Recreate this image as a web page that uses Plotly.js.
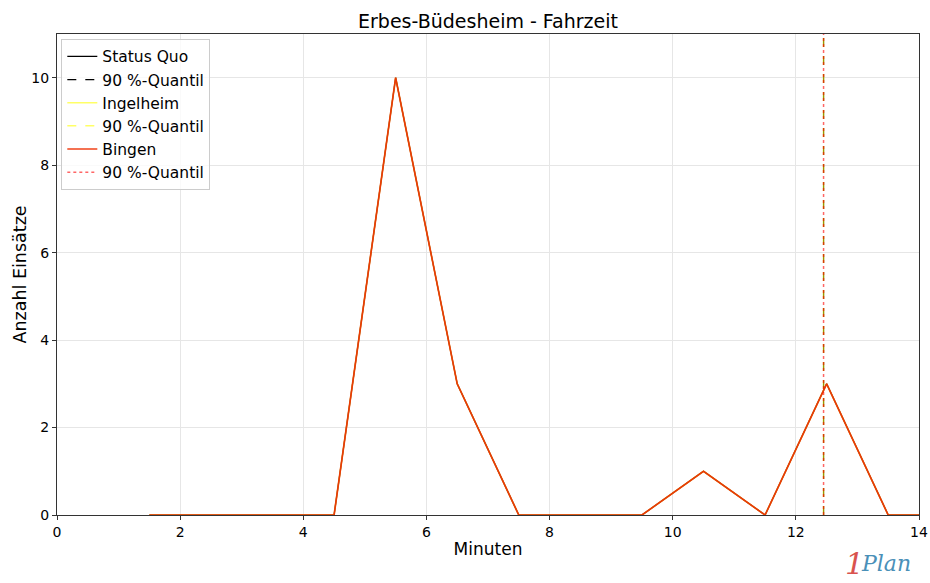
<!DOCTYPE html>
<html>
<head>
<meta charset="utf-8">
<script src="https://cdn.plot.ly/plotly-3.0.1.min.js"></script>
<style>html,body{margin:0;padding:0;background:#fff;}#chart{width:930px;height:583px;}</style>
</head>
<body>
<div id="chart"></div>
<script>
const minutes = [1.5, 2.5, 3.5, 4.5, 5.5, 6.5, 7.5, 8.5, 9.5, 10.5, 11.5, 12.5, 13.5, 14.5];
const statusQuo = [0, 0, 0, 0, 10, 3, 0, 0, 0, 1, 0, 3, 0, 0];
const ingelheim = [0, 0, 0, 0, 10, 3, 0, 0, 0, 1, 0, 3, 0, 0];
const bingen = [0, 0, 0, 0, 10, 3, 0, 0, 0, 1, 0, 3, 0, 0];
const quantileSQ = 12.45;
const quantileIng = 12.45;
const quantileBin = 12.45;
const yMax = 11;

const traces = [
  {x: minutes, y: statusQuo, name: 'Status Quo', mode: 'lines', line: {color: 'black', width: 1.2}},
  {x: [quantileSQ, quantileSQ], y: [0, yMax], name: '90 %-Quantil', mode: 'lines', line: {color: 'black', width: 1.2, dash: 'dash'}},
  {x: minutes, y: ingelheim, name: 'Ingelheim', mode: 'lines', line: {color: 'rgba(255,255,0,0.6)', width: 1.5}},
  {x: [quantileIng, quantileIng], y: [0, yMax], name: '90 %-Quantil', mode: 'lines', line: {color: 'rgba(255,255,0,0.6)', width: 1.5, dash: 'dash'}},
  {x: minutes, y: bingen, name: 'Bingen', mode: 'lines', line: {color: 'rgba(240,50,5,0.92)', width: 1.7}},
  {x: [quantileBin, quantileBin], y: [0, yMax], name: '90 %-Quantil', mode: 'lines', line: {color: 'rgba(255,0,0,0.6)', width: 1.5, dash: 'dot'}}
];

const layout = {
  width: 930, height: 583,
  margin: {l: 57, r: 11, t: 34, b: 68},
  paper_bgcolor: 'white', plot_bgcolor: 'white',
  font: {family: 'DejaVu Sans', size: 14, color: 'black'},
  title: {text: 'Erbes-Büdesheim - Fahrzeit', font: {size: 19, family: 'DejaVu Sans'}, xref: 'paper', x: 0.5, xanchor: 'center', y: 0.963, yanchor: 'middle'},
  xaxis: {
    range: [0, 14], dtick: 2, tick0: 0,
    title: {text: 'Minuten', font: {size: 17}, standoff: 4},
    showgrid: true, gridcolor: '#e6e6e6', zeroline: false,
    showline: true, linecolor: '#333', mirror: true, linewidth: 1,
    ticks: 'outside', ticklen: 4, tickcolor: '#333', tickfont: {size: 14}
  },
  yaxis: {
    range: [0, yMax], dtick: 2, tick0: 0,
    title: {text: 'Anzahl Einsätze', font: {size: 17.5}, standoff: 0},
    showgrid: true, gridcolor: '#e6e6e6', zeroline: false,
    showline: true, linecolor: '#333', mirror: true, linewidth: 1,
    ticks: 'outside', ticklen: 4, tickcolor: '#333', tickfont: {size: 14}
  },
  legend: {
    x: 0.005, y: 0.99, xanchor: 'left', yanchor: 'top',
    bgcolor: 'rgba(255,255,255,0.8)', bordercolor: '#ccc', borderwidth: 1,
    font: {size: 15.5}, tracegroupgap: 0, itemwidth: 30
  },
  showlegend: true,
  annotations: [
    {xref: 'paper', yref: 'paper', x: 0.912, y: -0.1, xanchor: 'left', yanchor: 'middle', showarrow: false,
     text: '<i>1</i>', font: {family: 'DejaVu Serif', size: 30, color: '#d9534f'}},
    {xref: 'paper', yref: 'paper', x: 0.93, y: -0.1, xanchor: 'left', yanchor: 'middle', showarrow: false,
     text: '<i>Plan</i>', font: {family: 'DejaVu Serif', size: 22, color: '#4a90b8'}}
  ]
};

Plotly.newPlot('chart', traces, layout, {displayModeBar: false, staticPlot: true});
</script>
</body>
</html>
